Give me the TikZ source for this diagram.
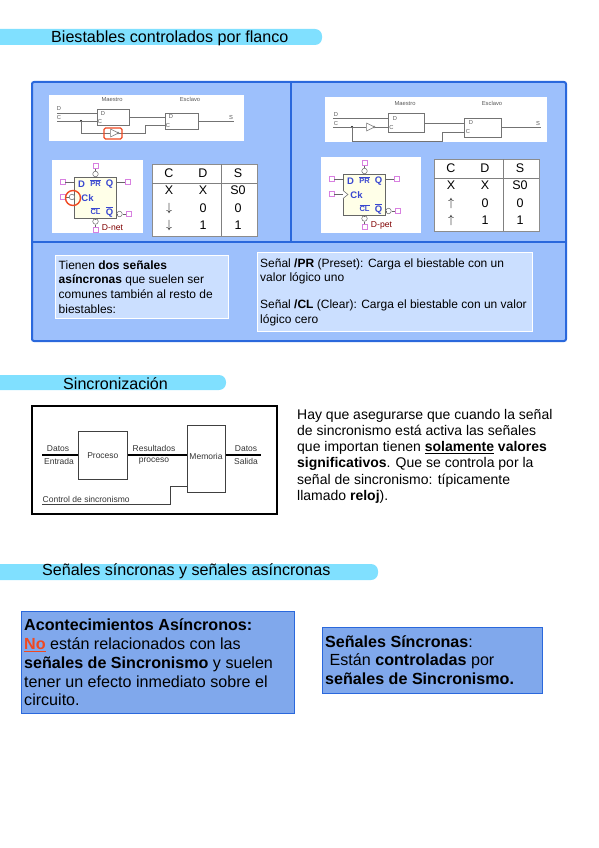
\documentclass[tikz,border=0pt]{standalone}
\usepackage{fontspec}
\setmainfont{Liberation Sans}
\usetikzlibrary{shapes.geometric}

\definecolor{barcyan}{HTML}{80E0FF}
\definecolor{panelblue}{HTML}{9DC0FC}
\definecolor{panelline}{HTML}{2A68DC}
\definecolor{notelight}{HTML}{CBDFFF}
\definecolor{notedark}{HTML}{80A8EC}
\definecolor{pinpink}{HTML}{D880E0}
\definecolor{symyellow}{HTML}{FFFFE8}
\definecolor{symblue}{HTML}{3A48D0}
\definecolor{alertred}{HTML}{F04820}

\tikzset{
	headbar/.style={fill=barcyan, draw=none, rounded corners=7pt},
	headtext/.style={anchor=west, inner sep=0pt, font=\fontsize{16.1}{16.1}\selectfont},
	notelow/.style={draw=white, fill=notelight, line width=1pt, anchor=north west, inner sep=0pt},
	notehigh/.style={draw=panelline, fill=notedark, line width=1pt, anchor=north west, inner sep=0pt},
	wpanel/.style={fill=white, draw=none, anchor=north west, inner sep=0pt},
	ffbox/.style={draw=black!55, fill=white, line width=0.8pt, anchor=north west, inner sep=0pt},
	wire/.style={draw=black!55, line width=0.8pt},
	tiny/.style={inner sep=0pt, text=black!65, font=\fontsize{5.8}{5.8}\selectfont},
	pinbox/.style={draw=pinpink, fill=white, line width=0.7pt, minimum size=5pt, inner sep=0pt},
	bubble/.style={circle, draw=black!60, fill=white, line width=0.5pt, minimum size=5.5pt, inner sep=0pt},
	inverter/.style={isosceles triangle, isosceles triangle stretches, draw=black!55, fill=white, line width=0.5pt, minimum width=8pt, minimum height=8pt, inner sep=0pt},
	symtext/.style={inner sep=0pt, text=symblue, font=\bfseries\fontsize{9.5}{9.5}\selectfont},
	smalltext/.style={inner sep=0pt, anchor=west, align=left, font=\fontsize{12}{14.6}\selectfont},
	bigtext/.style={inner sep=0pt, anchor=west, align=left, font=\fontsize{16.1}{18.8}\selectfont},
	cell/.style={inner sep=0pt, font=\fontsize{12.5}{12.5}\selectfont},
	procbox/.style={draw=black!75, fill=white, line width=0.7pt, anchor=north west, inner sep=0pt},
	proctext/.style={inner sep=0pt, text=black!80, font=\fontsize{8.5}{8.5}\selectfont},
	databus/.style={line width=2.8pt, black}
}

\newcommand{\fftable}[4]{
	\begin{scope}[shift={(#2,#3)}]
		\draw[fill=white, draw=black!45, line width=1pt] (0,0) rectangle (105,72);
		\draw[black!50, line width=0.8pt] (0,19) -- (105,19);
		\draw[black!50, line width=0.8pt] (69,0) -- (69,72);
		\node[cell] (#1c) at (17,9) {C};
		\node[cell] (#1d) at (51,9) {D};
		\node[cell] (#1s) at (86,9) {S};
		\node[cell] (#1ca) at (17,26) {X};
		\node[cell] (#1da) at (51,26) {X};
		\node[cell] (#1sa) at (86,26) {S0};
		\node[cell] (#1cb) at (17,44) {#4};
		\node[cell] (#1db) at (51,44) {0};
		\node[cell] (#1sb) at (86,44) {0};
		\node[cell] (#1cc) at (17,61) {#4};
		\node[cell] (#1dc) at (51,61) {1};
		\node[cell] (#1sc) at (86,61) {1};
	\end{scope}
}

\newcommand{\ffsymbol}[4]{
	\begin{scope}[shift={(#2,#3)}]
		\node[draw=black!60, fill=symyellow, line width=1pt, minimum width=42pt, minimum height=41pt, inner sep=0pt] (#1box) at (0,0) {};
		\node[pinbox] (#1dpin) at (-33,-16) {};
		\node[pinbox] (#1qpin) at (32,-16) {};
		\node[pinbox] (#1cpin) at (-33,-1) {};
		\node[pinbox] (#1prpin) at (0,-32) {};
		\node[pinbox] (#1clpin) at (0,32) {};
		\node[pinbox] (#1npin) at (33,16) {};
		\node[bubble] (#1prb) at (0,-24) {};
		\node[bubble] (#1clb) at (0,23.5) {};
		\node[bubble] (#1nb) at (24,16) {};
		\draw[black!60, line width=0.6pt] (#1dpin) -- (#1dpin -| #1box.west);
		\draw[black!60, line width=0.6pt] (#1qpin) -- (#1qpin -| #1box.east);
		\draw[black!60, line width=0.6pt] (#1prpin) -- (#1prb);
		\draw[black!60, line width=0.6pt] (#1prb) -- (#1box.north);
		\draw[black!60, line width=0.6pt] (#1clpin) -- (#1clb);
		\draw[black!60, line width=0.6pt] (#1clb) -- (#1box.south);
		\draw[black!60, line width=0.6pt] (#1npin) -- (#1nb);
		\draw[black!60, line width=0.6pt] (#1nb) -- (#1nb -| #1box.east);
		\node[symtext] (#1dtxt) at (-14,-14) {D};
		\node[symtext, font=\bfseries\fontsize{7.5}{7.5}\selectfont] (#1prtxt) at (0,-15) {$\overline{\mbox{PR}}$};
		\node[symtext] (#1qtxt) at (14,-14) {Q};
		\node[symtext] (#1ctxt) at (-8,0) {Ck};
		\node[symtext, font=\bfseries\fontsize{7.5}{7.5}\selectfont] (#1cltxt) at (0,13) {$\overline{\mbox{CL}}$};
		\node[symtext] (#1ntxt) at (14,14) {$\overline{\mbox{Q}}$};
		\node[inner sep=0pt, text=red!50!black, font=\fontsize{8.6}{8.6}\selectfont] (#1name) at (17,30) {#4};
	\end{scope}
}

\begin{document}
\begin{tikzpicture}[x=1pt, y=-1pt]
	\useasboundingbox (0,0) rectangle (599,848);

	% headings
	\draw[headbar] (-20,29) rectangle (322,45);
	\node[headtext] (headflanco) at (51,38) {Biestables controlados por flanco};
	\draw[headbar] (-20,375) rectangle (226,390);
	\node[headtext] (headsincro) at (63,383.5) {Sincronización};
	\draw[headbar] (-20,564) rectangle (378,580);
	\node[headtext] (headsenales) at (42,571.5) {Señales síncronas y señales asíncronas};

	% blue panel
	\draw[fill=panelblue, draw=panelline, line width=2pt, rounded corners=2pt] (32,82) rectangle (566,341);
	\draw[panelline, line width=2pt] (290.5,82) -- (290.5,242);
	\draw[panelline, line width=2pt] (32,242) -- (566,242);

	% left circuit
	\node[wpanel, minimum width=195pt, minimum height=46pt] (leftpanel) at (49,95) {};
	\node[ffbox, minimum width=32pt, minimum height=16pt] (leftmaestro) at (97,109) {};
	\node[ffbox, minimum width=33pt, minimum height=16pt] (leftesclavo) at (165,113) {};
	\node[inverter] (leftinv) at (113,133) {};
	\node[circle, draw=black!55, fill=white, minimum size=2pt, inner sep=0pt] (leftbub) at (118,133) {};
	\fill[black] (81,121) circle (1.2pt);
	\coordinate (leftdin) at (57,113);
	\coordinate (leftcin) at (57,121);
	\coordinate (leftsout) at (234,121);
	\coordinate (leftjoin) at (81,121);
	\draw[wire] (leftdin) -- (97,113);
	\draw[wire] (leftcin) -- (97,121);
	\draw[wire] (leftjoin) |- (leftinv);
	\draw[wire] (leftbub) -- (145,133) -- (145,125) -- (165,125);
	\draw[wire] (129,117) -- (165,117);
	\draw[wire] (198,121) -- (leftsout);
	\node[draw=alertred, line width=1.2pt, rounded corners=1.5pt, minimum width=18pt, minimum height=11pt, inner sep=0pt] (leftmark) at (113,133.5) {};
	\node[tiny] (leftmlabel) at (112,99.5) {Maestro};
	\node[tiny] (leftelabel) at (190,99.5) {Esclavo};
	\node[tiny] (leftdl) at (59,109) {D};
	\node[tiny] (leftcl) at (59,117.5) {C};
	\node[tiny] (leftsl) at (231,117.5) {S};
	\node[tiny] (leftdi) at (103,113.5) {D};
	\node[tiny] (leftci) at (100,121.5) {C};
	\node[tiny] (leftde) at (171,117) {D};
	\node[tiny] (leftce) at (168,125.5) {C};

	% right circuit
	\node[wpanel, minimum width=222pt, minimum height=45pt] (rightpanel) at (325,97) {};
	\node[ffbox, minimum width=36pt, minimum height=19pt] (rightmaestro) at (388,113) {};
	\node[ffbox, minimum width=37pt, minimum height=19pt] (rightesclavo) at (464,118) {};
	\node[inverter] (rightinv) at (369,127) {};
	\node[circle, draw=black!55, fill=white, minimum size=2pt, inner sep=0pt] (rightbub) at (374,127) {};
	\fill[black] (352,127) circle (1.2pt);
	\coordinate (rightdin) at (333,118);
	\coordinate (rightcin) at (333,127);
	\coordinate (rightsout) at (541,127);
	\coordinate (rightjoin) at (352,127);
	\draw[wire] (rightdin) -- (388,118);
	\draw[wire] (rightcin) -- (rightinv);
	\draw[wire] (rightbub) -- (388,127);
	\draw[wire] (rightjoin) -- (352,141) -- (442,141) -- (442,132) -- (464,132);
	\draw[wire] (424,123) -- (464,123);
	\draw[wire] (501,127) -- (rightsout);
	\node[tiny] (rightmlabel) at (405,103.5) {Maestro};
	\node[tiny] (rightelabel) at (492,103.5) {Esclavo};
	\node[tiny] (rightdl) at (336,114.5) {D};
	\node[tiny] (rightcl) at (336,124) {C};
	\node[tiny] (rightsl) at (538,124) {S};
	\node[tiny] (rightdi) at (395,118.5) {D};
	\node[tiny] (rightci) at (391.5,127.5) {C};
	\node[tiny] (rightde) at (471,122.5) {D};
	\node[tiny] (rightce) at (468,132) {C};

	% symbols and tables
	\node[wpanel, minimum width=91pt, minimum height=73pt] (leftsym) at (52,160) {};
	\ffsymbol{l}{95.5}{198}{D-net}
	\node[bubble] (lclkb) at (72,197) {};
	\draw[black!60, line width=0.6pt] (lcpin) -- (lclkb);
	\node[circle, draw=alertred, line width=1.4pt, minimum size=15pt, inner sep=0pt] (lclkmark) at (73,198) {};
	\fftable{lt}{152}{164}{$\downarrow$}

	\node[wpanel, minimum width=100pt, minimum height=76pt] (rightsym) at (321,157) {};
	\ffsymbol{r}{364.5}{195}{D-pet}
	\draw[black!60, line width=0.6pt] (rcpin) -- (rcpin -| rbox.west);
	\draw[black!60, fill=white, line width=0.5pt] (343,190.5) -- (348,194.5) -- (343,198.5);
	\fftable{rt}{434}{159}{$\uparrow$}

	% notes inside the panel
	\node[notelow, minimum width=173pt, minimum height=63pt] (noteleft) at (55,255) {};
	\node[smalltext] (noteltxt) at (58.5,287) {Tienen \textbf{dos señales}\\\textbf{asíncronas} que suelen ser\\comunes también al resto de\\biestables:};
	\node[notelow, minimum width=275pt, minimum height=79pt] (noteright) at (257,252) {};
	\node[smalltext] (notertxt) at (260,292) {Señal \textbf{/PR} (Preset): Carga el biestable con un\\valor lógico uno\\[12pt]Señal \textbf{/CL} (Clear): Carga el biestable con un valor\\lógico cero};

	% sync diagram
	\draw[black, line width=2.2pt] (32,406) rectangle (277,514);
	\node[procbox, minimum width=49pt, minimum height=48pt] (proceso) at (78,431) {};
	\node[proctext] (procesotxt) at (proceso.center) {Proceso};
	\node[procbox, minimum width=38pt, minimum height=67pt] (memoria) at (187,425) {};
	\node[proctext] (memoriatxt) at (206,456.5) {Memoria};
	\coordinate (entrada) at (42,455);
	\coordinate (salida) at (261,455);
	\coordinate (control) at (42,504);
	\draw[databus] (entrada) -- (proceso.west |- entrada);
	\draw[databus] (proceso.east |- entrada) -- (memoria.west |- entrada);
	\draw[databus] (memoria.east |- salida) -- (salida);
	\draw[black!75, line width=0.7pt] (control) -- (170,504) -- (170,486) -- (187,486);
	\node[proctext] (datosin) at (58,448.5) {Datos};
	\node[proctext] (entradatxt) at (59,461.5) {Entrada};
	\node[proctext] (resultados) at (154,448.5) {Resultados};
	\node[proctext] (procesolow) at (154,461.5) {proceso};
	\node[proctext] (datosout) at (246,448.5) {Datos};
	\node[proctext] (salidatxt) at (246,461.5) {Salida};
	\node[proctext, anchor=west] (controltxt) at (42.5,499) {Control de sincronismo};

	% text right of the diagram
	\node[inner sep=0pt, anchor=north west, align=left, font=\fontsize{14}{16.2}\selectfont] (syncnote) at (297,409) {Hay que asegurarse que cuando la señal\\de sincronismo está activa las señales\\que importan tienen \textbf{\underline{solamente} valores}\\\textbf{significativos}. Que se  controla por la\\señal de sincronismo: típicamente\\llamado \textbf{reloj}).};

	% bottom notes
	\node[notehigh, minimum width=273pt, minimum height=102pt] (noteasin) at (21,611) {};
	\node[bigtext] (asintxt) at (24,662.5) {\textbf{Acontecimientos Asíncronos:}\\\textcolor{alertred}{\textbf{\underline{No}}} están relacionados con las\\\textbf{señales de Sincronismo} y suelen\\tener un efecto inmediato sobre el\\circuito.};
	\node[notehigh, minimum width=220pt, minimum height=66pt] (notesin) at (322,627) {};
	\node[bigtext] (sintxt) at (325,660) {\textbf{Señales Síncronas}:\\\ Están \textbf{controladas} por\\\textbf{señales de Sincronismo.}};
\end{tikzpicture}
\end{document}
